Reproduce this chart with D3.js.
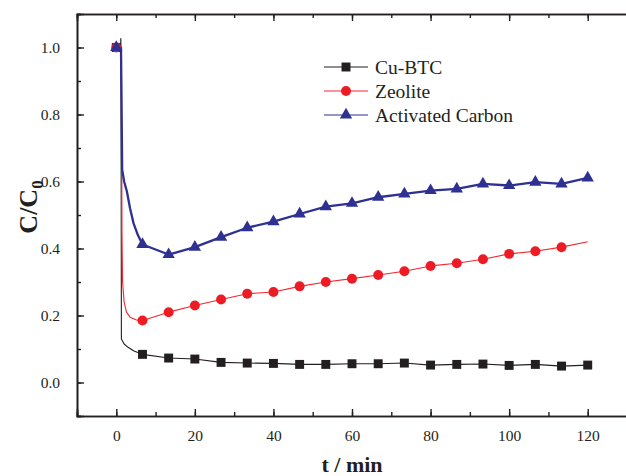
<!DOCTYPE html>
<html>
<head>
  <meta charset="utf-8">
  <title>C/C0 vs time</title>
  <script src="https://d3js.org/d3.v7.min.js"></script>
  <style>
    body { margin: 0; background: #fff; }
    svg text { font-family: "Liberation Serif", "Times New Roman", serif; fill: #231f20; }
  </style>
</head>
<body>
<div id="chart"></div>
<script type="text/javascript">
  let w = 626;
  let h = 476;

  // marker times (min)
  let markTimes = [0, 6.67, 13.33, 20, 26.67, 33.33, 40, 46.67, 53.33, 60,
                   66.67, 73.33, 80, 86.67, 93.33, 100, 106.67, 113.33, 120];
  let cuBtc   = [1.0, 0.084, 0.073, 0.070, 0.060, 0.058, 0.057, 0.054, 0.054, 0.056,
                 0.056, 0.058, 0.052, 0.054, 0.055, 0.051, 0.054, 0.049, 0.052];
  let zeolite = [1.0, 0.185, 0.210, 0.230, 0.248, 0.265, 0.270, 0.287, 0.300, 0.310,
                 0.321, 0.332, 0.348, 0.356, 0.368, 0.384, 0.392, 0.404];
  let zeoliteEnd = [120, 0.42];
  let carbon  = [1.0, 0.412, 0.382, 0.404, 0.434, 0.462, 0.480, 0.503, 0.525, 0.535,
                 0.553, 0.563, 0.573, 0.578, 0.593, 0.588, 0.598, 0.593, 0.611];

  // the sharp drop right after t = 0
  let cuBtcDrop   = [[0, 1.0], [1.1, 1.0], [1.15, 1.027], [1.2, 0.98], [1.3, 0.13],
                     [2, 0.115], [3, 0.105], [4.5, 0.094]];
  let zeoliteDrop = [[0, 1.0], [1.3, 1.0], [1.45, 0.45], [1.6, 0.30], [2, 0.24],
                     [2.6, 0.21], [3.5, 0.195], [5, 0.187]];
  let carbonDrop  = [[0, 1.0], [1.2, 1.0], [1.5, 0.635], [2, 0.60], [2.7, 0.57],
                     [3.5, 0.52], [4.4, 0.475], [5.5, 0.44]];

  let xTicks = [0, 20, 40, 60, 80, 100, 120];
  let yTicks = [0.0, 0.2, 0.4, 0.6, 0.8, 1.0];

  let series = [
    { name: 'Cu-BTC', vals: cuBtc, drop: cuBtcDrop, end: null, color: '#231f20', line: '#231f20', sym: d3.symbolSquare, size: 80, lw: 1.1 },
    { name: 'Zeolite', vals: zeolite, drop: zeoliteDrop, end: zeoliteEnd, color: '#ed1c24', line: '#ee2a30', sym: d3.symbolCircle, size: 78, lw: 1.1 },
    { name: 'Activated Carbon', vals: carbon, drop: carbonDrop, end: null, color: '#2e3192', line: '#2e3192', sym: d3.symbolTriangle, size: 66, lw: 2.3 }
  ];

  let xScale = d3.scaleLinear().domain([-10, 130]).range([77, 627]);
  let yScale = d3.scaleLinear().domain([-0.1, 1.1]).range([416, 14]);

  let svg = d3.select('#chart')
              .append('svg')
              .attr('width', w)
              .attr('height', h);

  // axes (ticks inside)
  let ax = '#231f20';
  let xAxisG = svg.append('g').attr('transform', 'translate(0,416)')
     .call(d3.axisBottom(xScale).tickValues(xTicks).tickSize(-7).tickPadding(14).tickFormat(d3.format('d')));
  let xMinorG = svg.append('g').attr('transform', 'translate(0,416)')
     .call(d3.axisBottom(xScale).tickValues(d3.range(-10, 131, 10)).tickSize(-4).tickFormat(''));
  let topAxisG = svg.append('g').attr('transform', 'translate(0,14)')
     .call(d3.axisTop(xScale).tickValues(xTicks).tickSize(-7).tickFormat(''));
  let topMinorG = svg.append('g').attr('transform', 'translate(0,14)')
     .call(d3.axisTop(xScale).tickValues(d3.range(-10, 131, 10)).tickSize(-4).tickFormat(''));
  let yAxisG = svg.append('g').attr('transform', 'translate(77,0)')
     .call(d3.axisLeft(yScale).tickValues(yTicks).tickSize(-7).tickPadding(17).tickFormat(d3.format('.1f')));
  let yMinorG = svg.append('g').attr('transform', 'translate(77,0)')
     .call(d3.axisLeft(yScale).tickValues(d3.range(-0.1, 1.11, 0.1)).tickSize(-4).tickFormat(''));

  [xAxisG, xMinorG, topAxisG, topMinorG, yAxisG, yMinorG].forEach(g => {
    g.select('.domain').attr('stroke', ax).attr('stroke-width', 1.6);
    g.selectAll('.tick line').attr('stroke', ax).attr('stroke-width', 1.4);
    g.selectAll('.tick text').attr('font-size', '15.5px')
     .attr('font-family', '"Liberation Serif", serif').attr('fill', '#231f20');
  });

  // lines
  let line = d3.line().x(([t, v]) => xScale(t)).y(([t, v]) => yScale(v));
  series.forEach(s => {
    let pts = s.drop.concat(markTimes.slice(1, s.vals.length).map((t, i) => [t, s.vals[i + 1]]));
    if (s.end) pts.push(s.end);
    svg.append('path')
       .attr('d', line(pts))
       .attr('fill', 'none')
       .attr('stroke', s.line)
       .attr('stroke-width', s.lw)
       .attr('stroke-linejoin', 'round');
  });

  // markers
  series.forEach(s => {
    svg.selectAll(null)
       .data(s.vals.map((v, i) => [markTimes[i], v]))
       .enter()
       .append('path')
       .attr('d', d3.symbol().type(s.sym).size(s.size))
       .attr('transform', ([t, v]) => `translate(${xScale(t)},${yScale(v)})`)
       .attr('fill', s.color);
  });

  // legend
  let lg = svg.append('g').selectAll('g')
     .data(series)
     .enter()
     .append('g')
     .attr('transform', (d, i) => `translate(0,${67 + i * 24})`);
  lg.append('line')
    .attr('x1', 324).attr('x2', 368)
    .attr('stroke', d => d.line).attr('stroke-width', 1.2);
  lg.append('path')
    .attr('d', d => d3.symbol().type(d.sym).size(d.size)())
    .attr('transform', 'translate(346,0)')
    .attr('fill', d => d.color);
  lg.append('text')
    .attr('x', 375).attr('y', 6.5)
    .attr('font-size', '19.5px')
    .text(d => d.name);

  // axis titles
  svg.append('text')
     .attr('x', 352).attr('y', 472)
     .attr('text-anchor', 'middle')
     .attr('font-size', '22px')
     .attr('font-weight', 'bold')
     .text('t / min');

  let yl = svg.append('text')
     .attr('transform', 'translate(37,207) rotate(-90)')
     .attr('text-anchor', 'middle')
     .attr('font-size', '26px')
     .attr('font-weight', 'bold');
  yl.append('tspan').text('C/C');
  yl.append('tspan').attr('font-size', '17px').attr('dy', 6).text('0');
</script>
</body>
</html>
